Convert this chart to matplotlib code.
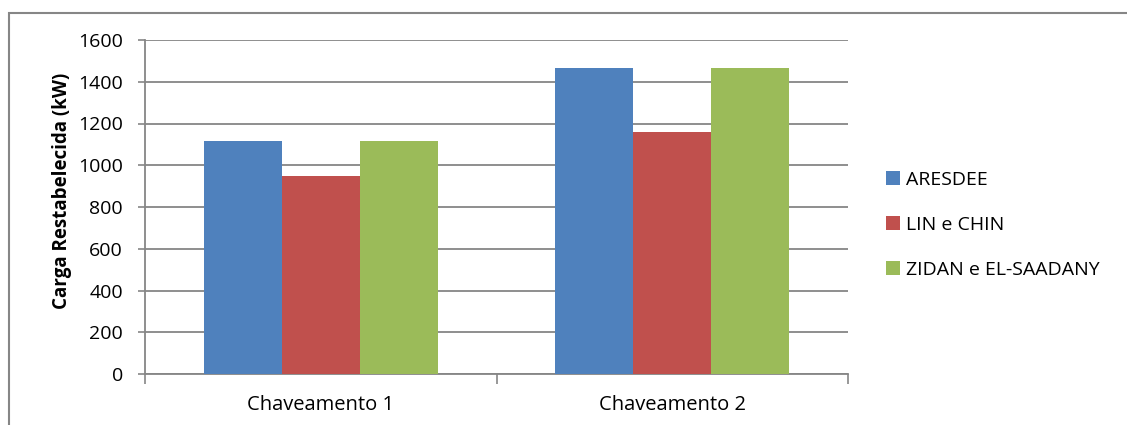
import numpy as np
import matplotlib.pyplot as plt
from matplotlib.patches import Rectangle

categorias = ['Chaveamento 1', 'Chaveamento 2']
series = ['ARESDEE', 'LIN e CHIN', 'ZIDAN e EL-SAADANY']
aresdee = [1116, 1467]
lin_chin = [947, 1160]
zidan = [1116, 1467]
cores = ['#4F81BD', '#C0504D', '#9BBB59']
yticks = [0, 200, 400, 600, 800, 1000, 1200, 1400, 1600]

plt.rcParams['font.family'] = ['Open Sans', 'DejaVu Sans']
cinza = '#868686'

W, H = 1127, 425
fig = plt.figure(figsize=(W/100, H/100), dpi=100)
ax = fig.add_axes([145/W, 1-374/H, 703/W, 334/H])

# moldura do grafico
fig.patches.append(Rectangle((9/W, -0.05), 1.1, 1-13/H+0.05,
                             transform=fig.transFigure, fill=False,
                             edgecolor=cinza, linewidth=1.5))

x = np.arange(len(categorias))
w = 0.222
for i, (vals, nome) in enumerate(zip([aresdee, lin_chin, zidan], series)):
    ax.bar(x + (i-1)*w, vals, w, color=cores[i], label=nome, zorder=3)

ax.set_xlim(-0.5, 1.5)
ax.set_ylim(0, 1600)
ax.set_yticks(yticks)
ax.set_yticklabels([str(v) for v in yticks], fontsize=14)
ax.yaxis.grid(True, color=cinza, linewidth=1.3, zorder=0)
ax.set_xticks([-0.5, 0.5, 1.5])
ax.set_xticklabels([])
ax.set_xticks(x, minor=True)
ax.set_xticklabels(categorias, minor=True, fontsize=14.5)
ax.tick_params(axis='x', which='minor', length=0, pad=15)
ax.tick_params(axis='x', which='major', length=7, color=cinza, width=1.2)
ax.tick_params(axis='y', length=5, color=cinza, width=1.2, pad=11)
for s in ['top', 'right']:
    ax.spines[s].set_visible(False)
for s in ['left', 'bottom']:
    ax.spines[s].set_color(cinza)
    ax.spines[s].set_linewidth(1.3)

fig.text(62/W, 1-191/H, 'Carga Restabelecida (kW)', rotation=90,
         ha='center', va='center', fontsize=13.5, fontweight='bold')

fig.legend(loc='center left', bbox_to_anchor=(886/W, 1-225/H), frameon=False,
           fontsize=14, handlelength=0.72, handleheight=0.72, handletextpad=0.3,
           labelspacing=1.4, borderpad=0, borderaxespad=0)

fig.savefig('out.png', dpi=100)
